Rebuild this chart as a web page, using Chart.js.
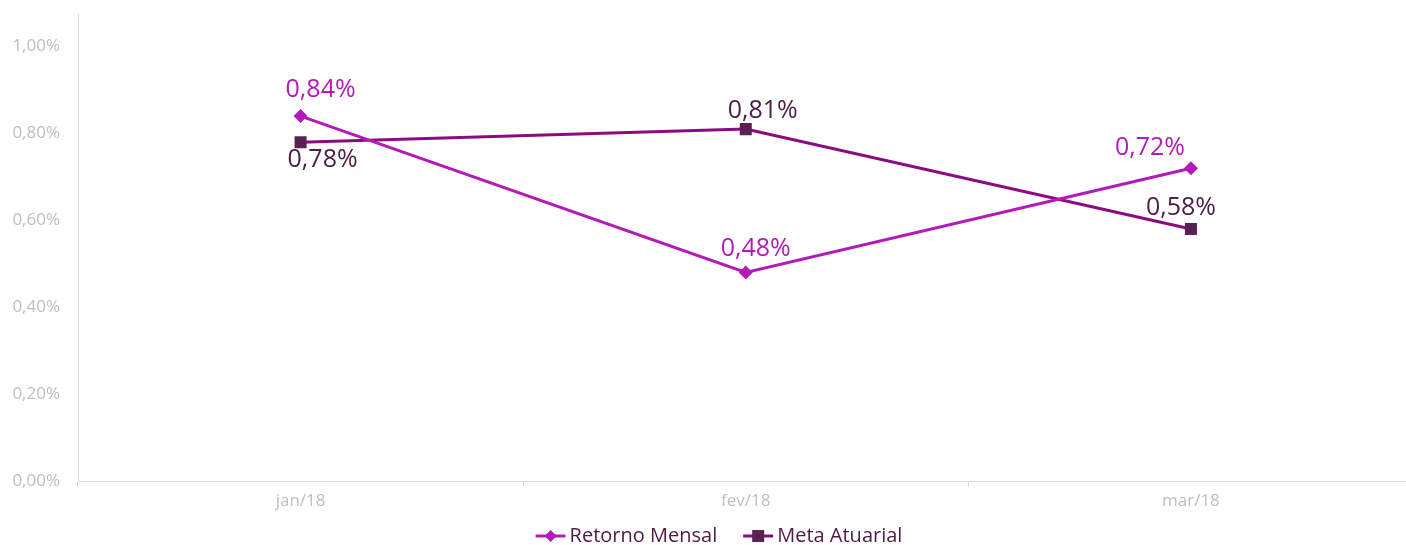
<!DOCTYPE html>
<html><head><meta charset="utf-8">
<script src="https://cdn.jsdelivr.net/npm/chart.js@4.4.1/dist/chart.umd.min.js"></script>
<style>html,body{margin:0;padding:0;background:#fff;overflow:hidden;width:1406px;height:545px;}#wrap{width:1422px;height:545px;}</style>
</head><body><div id="wrap"><canvas id="c"></canvas></div>
<script>
const categories = ['jan/18', 'fev/18', 'mar/18'];
const retornoMensal = [0.84, 0.48, 0.72];
const metaAtuarial = [0.78, 0.81, 0.58];
const yTickValues = [0, 0.2, 0.4, 0.6, 0.8, 1.0];

const C_RET = '#B31AB8';
const C_META_LINE = '#8A0C80';
const C_META_PT = '#5A1F53';
const C_META_TXT = '#4D2046';
const FONT = '"Open Sans", sans-serif';

// label offsets (px) relative to each point: [dx, dy]
const labelOffsets = [
  [[20,-26],[10,-24],[-41,-20]],
  [[22,18],[17,-18],[-10,-21]]
];
const labelColors = [C_RET, C_META_TXT];

const fmt = v => v.toFixed(2).replace('.', ',') + '%';

const labelPlugin = {
  id: 'pointLabels',
  afterDatasetsDraw(chart) {
    const ctx = chart.ctx;
    ctx.save();
    ctx.font = '25px ' + FONT;
    ctx.textAlign = 'center';
    ctx.textBaseline = 'middle';
    chart.data.datasets.forEach((ds, di) => {
      const meta = chart.getDatasetMeta(di);
      meta.data.forEach((pt, i) => {
        const o = labelOffsets[di][i];
        ctx.fillStyle = labelColors[di];
        ctx.fillText(fmt(ds.data[i]), pt.x + o[0], pt.y + o[1]);
      });
    });
    ctx.restore();
  }
};

const legendPlugin = {
  id: 'customLegend',
  afterDraw(chart) {
    const ctx = chart.ctx;
    ctx.save();
    ctx.font = '20px ' + FONT;
    ctx.textBaseline = 'middle';
    const items = chart.data.datasets.map(ds => ({text: ds.label, line: ds.borderColor, pt: ds.pointBackgroundColor, style: ds.pointStyle}));
    const lineW = 30, gap = 4, itemGap = 26;
    let total = 0;
    items.forEach((it, i) => { it.w = ctx.measureText(it.text).width; total += lineW + gap + it.w + (i ? itemGap : 0); });
    let x = 719 - total / 2;
    const y = 536;
    items.forEach((it, i) => {
      if (i) x += itemGap;
      ctx.strokeStyle = it.line; ctx.lineWidth = 3;
      ctx.beginPath(); ctx.moveTo(x, y); ctx.lineTo(x + lineW, y); ctx.stroke();
      ctx.fillStyle = it.pt;
      const cx = x + lineW / 2;
      if (it.style === 'rectRot') {
        ctx.beginPath(); ctx.moveTo(cx, y - 6); ctx.lineTo(cx + 6, y); ctx.lineTo(cx, y + 6); ctx.lineTo(cx - 6, y); ctx.closePath(); ctx.fill();
      } else {
        ctx.fillRect(cx - 6, y - 6, 12, 12);
      }
      x += lineW + gap;
      ctx.fillStyle = C_META_TXT;
      ctx.fillText(it.text, x, y);
      x += it.w;
    });
    ctx.restore();
  }
};

new Chart(document.getElementById('c'), {
  type: 'line',
  data: {
    labels: categories,
    datasets: [
      {label: 'Retorno Mensal', data: retornoMensal, borderColor: C_RET, backgroundColor: C_RET,
       pointBackgroundColor: C_RET, pointBorderColor: C_RET, pointStyle: 'rectRot', pointRadius: 7, pointBorderWidth: 0, borderWidth: 3, tension: 0},
      {label: 'Meta Atuarial', data: metaAtuarial, borderColor: C_META_LINE, backgroundColor: C_META_PT,
       pointBackgroundColor: C_META_PT, pointBorderColor: C_META_PT, pointStyle: 'rect', pointRadius: 8.5, pointBorderWidth: 0, borderWidth: 3, tension: 0}
    ]
  },
  options: {
    responsive: true, maintainAspectRatio: false, animation: false,
    layout: {padding: {top: 14, right: 0, bottom: 24, left: 0}},
    plugins: {legend: {display: false}, tooltip: {enabled: false}},
    scales: {
      x: {
        offset: true,
        grid: {offset: true, drawOnChartArea: false, drawTicks: true, tickLength: 6, color: '#D9D9D9'},
        border: {color: '#D9D9D9', width: 1},
        ticks: {color: '#BFBFBF', font: {size: 17, family: FONT}, padding: 4},
        afterFit(s) { s.height = 40; s.paddingLeft = 0; s.paddingRight = 0; }
      },
      y: {
        min: 0, max: 1.075,
        grid: {display: false, drawTicks: false},
        border: {color: '#D9D9D9', width: 1},
        ticks: {color: '#BFBFBF', font: {size: 17, family: FONT}, padding: 18, callback: v => fmt(v)},
        afterBuildTicks(s) { s.ticks = yTickValues.map(v => ({value: v})); },
        afterFit(s) { s.width = 78; s.paddingTop = 0; s.paddingBottom = 0; }
      }
    }
  },
  plugins: [labelPlugin, legendPlugin]
});
</script></body></html>
